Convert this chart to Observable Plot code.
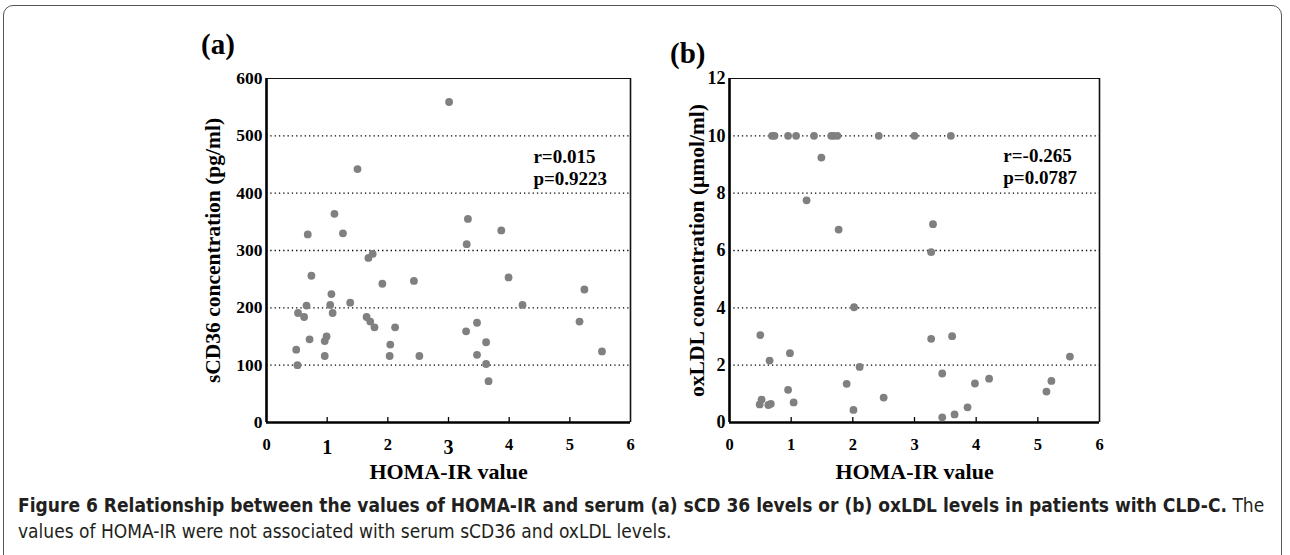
<!DOCTYPE html>
<html>
<head>
<meta charset="utf-8">
<script src="https://cdn.jsdelivr.net/npm/d3@7"></script>
<script src="https://cdn.jsdelivr.net/npm/@observablehq/plot@0.6"></script>
<style>
  html, body { margin: 0; padding: 0; background: #fff; }
  #wrap { position: relative; width: 1290px; height: 555px; overflow: hidden; background: #fff; }
  #border { position: absolute; left: 3px; top: 5px; width: 1279px; height: 580px; border: 1.3px solid #555; border-radius: 10px; box-sizing: border-box; }
  .panel { position: absolute; top: 20px; }
  .plab { position: absolute; font-family: "Liberation Serif", "Times New Roman", serif; font-weight: bold; font-size: 29px; color: #000; line-height: 1; }
  #caption { position: absolute; left: 18px; top: 492px; font-family: "Liberation Sans Narrow", "Arial Narrow", "DejaVu Sans Condensed", sans-serif; font-size: 19px; line-height: 26px; color: #231f20; white-space: nowrap; }
</style>
</head>
<body>
<div id="wrap">
  <div id="border"></div>
  <div class="plab" style="left:201px; top:30px;">(a)</div>
  <div class="plab" style="left:670px; top:39px;">(b)</div>
  <div class="panel" id="pa" style="left:140px;"></div>
  <div class="panel" id="pb" style="left:610px;"></div>
  <div id="caption"><b>Figure 6 Relationship between the values of HOMA-IR and serum (a) sCD 36 levels or (b) oxLDL levels in patients with CLD-C.</b> The<br>values of HOMA-IR were not associated with serum sCD36 and oxLDL levels.</div>
</div>
<script>
// ---- Data ----
const homaA = [1.50,1.12,0.68,1.26,1.68,1.75,0.74,1.07,0.66,1.05,1.38,0.52,0.62,1.09,1.65,1.71,1.78,1.91,2.43,2.12,0.71,0.99,0.96,0.49,0.96,2.04,2.03,2.52,0.51,3.01,3.32,3.87,3.30,3.99,5.24,4.22,3.47,3.29,5.16,3.62,3.47,5.53,3.62,3.66];
const sCD36 = [442,364,328,330,287,294,256,224,204,205,209,191,184,191,184,176,166,242,247,166,145,150,142,127,116,136,116,116,100,559,355,335,311,253,232,205,174,159,176,140,118,124,102,72];
const homaB = [0.69,0.73,0.95,1.08,1.37,1.65,1.69,1.75,2.42,3.00,3.59,1.49,1.25,1.77,3.30,3.27,3.27,3.61,5.52,3.45,4.21,3.98,5.22,5.14,3.86,3.65,3.45,2.02,0.50,0.98,0.65,2.11,1.90,0.95,2.50,0.52,0.49,0.63,0.67,1.04,2.01];
const oxLDL = [10,10,10,10,10,10,10,10,10,10,10,9.24,7.75,6.73,6.92,5.94,2.92,3.01,2.30,1.71,1.53,1.36,1.45,1.08,0.53,0.28,0.18,4.02,3.05,2.42,2.16,1.94,1.35,1.14,0.87,0.80,0.63,0.61,0.65,0.70,0.44];

const xTicksSmallA = [0,2,4,5,6];
const xTicksBigA = [1,3];
const xTicksB = [0,1,2,3,4,5,6];
const yTicksA = [0,100,200,300,400,500,600];
const yGridA = [100,200,300,400,500];
const yTicksB = [0,2,4,6,8,10,12];
const yGridB = [2,4,6,8,10];
const innerTicks = [1,2,3,4,5];

const statsA = [{x: 4.40, y: 463, t: "r=0.015"}, {x: 4.40, y: 425, t: "p=0.9223"}];
const statsB = [{x: 4.44, y: 9.29, t: "r=-0.265"}, {x: 4.44, y: 8.53, t: "p=0.0787"}];

const FONT = "Liberation Serif, Times New Roman, serif";

function panel({xs, ys, yDomain, yTicks, yGrid, xSmall, xBig, stats, yLabel, marginLeft, marginRight, yLabelDx, yFont}) {
  const data = xs.map((x, i) => ({x, y: ys[i]}));
  const frameH = 470 - 58 - 68;
  return Plot.plot({
    width: 510, height: 470,
    marginLeft, marginRight, marginTop: 58, marginBottom: 68,
    style: {fontFamily: FONT, background: "transparent", overflow: "visible"},
    x: {domain: [0, 6], axis: null},
    y: {domain: yDomain, axis: null},
    marks: [
      Plot.ruleY(yGrid, {stroke: "#000", strokeWidth: 1.3, strokeDasharray: "1.3,3"}),
      Plot.ruleY([yDomain[1]], {stroke: "#111", strokeWidth: 1.2}),
      Plot.ruleX([6], {stroke: "#111", strokeWidth: 1.6}),
      Plot.ruleX([0], {stroke: "#000", strokeWidth: 2.6}),
      Plot.ruleY([0], {stroke: "#000", strokeWidth: 2.6}),
      Plot.tickX(innerTicks, {x: d => d, stroke: "#000", strokeWidth: 1.3, insetTop: frameH - 5}),
      Plot.dot(data, {x: "x", y: "y", r: 3.9, fill: "#808080", stroke: "none"}),
      Plot.text(yTicks, {y: d => d, text: d => String(d), frameAnchor: "left", dx: -4, textAnchor: "end", fontSize: yFont, fontWeight: "bold", fill: "#000"}),
      Plot.text(xSmall, {x: d => d, text: d => String(d), frameAnchor: "bottom", dy: 22, lineAnchor: "middle", fontSize: 16.5, fontWeight: "bold", fill: "#000"}),
      Plot.text(xBig, {x: d => d, text: d => String(d), frameAnchor: "bottom", dy: 25, lineAnchor: "middle", fontSize: 20, fontWeight: "bold", fill: "#000"}),
      Plot.text(["HOMA-IR value"], {frameAnchor: "bottom", dy: 49, lineAnchor: "middle", textAnchor: "middle", fontSize: 22, fontWeight: "bold", fill: "#000"}),
      Plot.text([yLabel], {frameAnchor: "left", dx: yLabelDx, rotate: -90, textAnchor: "middle", lineAnchor: "middle", fontSize: 21.5, fontWeight: "bold", fill: "#000"}),
      Plot.text(stats, {x: "x", y: "y", text: "t", textAnchor: "start", lineAnchor: "middle", fontSize: 19, fontWeight: "bold", fill: "#000"})
    ]
  });
}

document.getElementById("pa").appendChild(panel({
  xs: homaA, ys: sCD36, yDomain: [0, 600], yTicks: yTicksA, yGrid: yGridA,
  xSmall: xTicksSmallA, xBig: xTicksBigA, stats: statsA,
  yLabel: "sCD36 concentration (pg/ml)", marginLeft: 126, marginRight: 20, yLabelDx: -53, yFont: 17.5
}));
document.getElementById("pb").appendChild(panel({
  xs: homaB, ys: oxLDL, yDomain: [0, 12], yTicks: yTicksB, yGrid: yGridB,
  xSmall: xTicksB, xBig: [], stats: statsB,
  yLabel: "oxLDL concentration (\u03bcmol/ml)", marginLeft: 119, marginRight: 21, yLabelDx: -32, yFont: 18
}));
</script>
</body>
</html>
